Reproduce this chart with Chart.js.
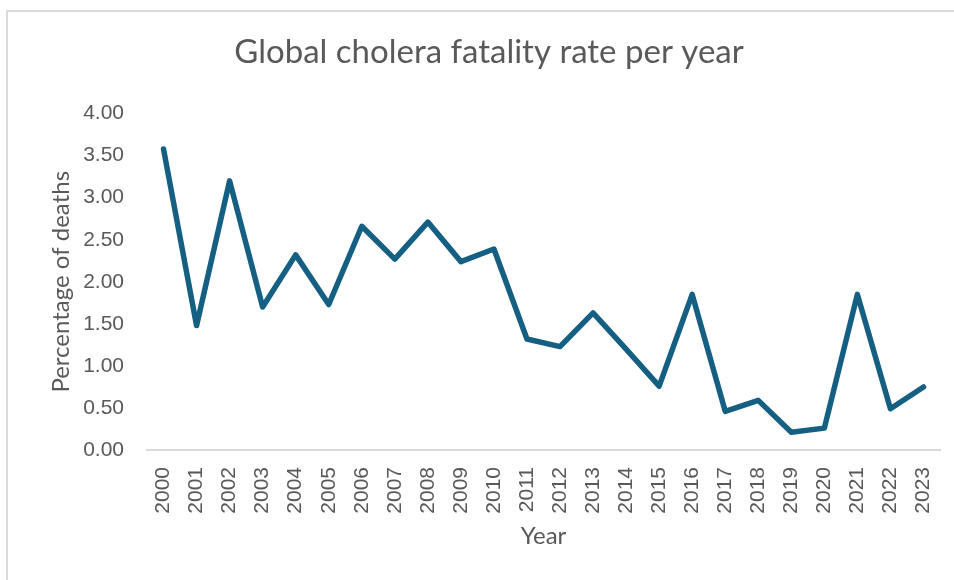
<!DOCTYPE html>
<html>
<head>
<meta charset="utf-8">
<script src="https://cdn.jsdelivr.net/npm/chart.js@4.4.1/dist/chart.umd.min.js"></script>
<style>
  html, body { margin: 0; padding: 0; background: #ffffff; }
  #wrap { position: relative; width: 954px; height: 580px; }
  canvas { display: block; }
</style>
</head>
<body>
<div id="wrap"><canvas id="chart" width="954" height="580"></canvas></div>
<script>
// Years on the category axis
const years = ['2000','2001','2002','2003','2004','2005','2006','2007','2008','2009','2010','2011',
               '2012','2013','2014','2015','2016','2017','2018','2019','2020','2021','2022','2023'];

// Case fatality rate (% of reported cases that died)
const fatalityRate = [3.58, 1.48, 3.20, 1.70, 2.32, 1.73, 2.66, 2.27, 2.71, 2.24, 2.39, 1.32,
                      1.23, 1.63, 1.20, 0.76, 1.85, 0.46, 0.59, 0.21, 0.26, 1.85, 0.49, 0.75];

// Value axis range
const yMin = 0;
const yMax = 4;
const yStep = 0.5;

const textGrey = '#595959';
const lineGrey = '#d9d9d9';

// White page with a light frame along the top and left edges
const framePlugin = {
  id: 'frame',
  beforeDraw(chart) {
    const ctx = chart.ctx;
    ctx.save();
    ctx.fillStyle = '#ffffff';
    ctx.fillRect(0, 0, chart.width, chart.height);
    ctx.fillStyle = lineGrey;
    ctx.fillRect(6, 10, chart.width - 6, 2);
    ctx.fillRect(6, 10, 2, chart.height - 10);
    ctx.restore();
  }
};

new Chart(document.getElementById('chart'), {
  type: 'line',
  data: {
    labels: years,
    datasets: [{
      label: 'Fatality rate',
      data: fatalityRate,
      borderColor: '#156082',
      borderWidth: 5.5,
      borderJoinStyle: 'round',
      borderCapStyle: 'round',
      pointRadius: 0,
      pointHoverRadius: 0,
      tension: 0,
      fill: false
    }]
  },
  options: {
    responsive: false,
    animation: false,
    layout: { padding: { left: 38, right: 14, top: 30, bottom: 0 } },
    plugins: {
      legend: { display: false },
      tooltip: { enabled: false },
      title: {
        display: true,
        text: 'Global cholera fatality rate per year',
        color: textGrey,
        font: { family: 'Lato', size: 33, weight: 'normal' },
        padding: { top: 3, bottom: 41 }
      }
    },
    scales: {
      x: {
        offset: true,
        grid: { display: false, drawTicks: false },
        border: { display: true, color: lineGrey, width: 2 },
        ticks: {
          color: textGrey,
          font: { family: 'Liberation Sans', size: 21 },
          minRotation: 90,
          maxRotation: 90,
          autoSkip: false,
          padding: 17
        },
        title: {
          display: true,
          text: 'Year',
          color: textGrey,
          font: { family: 'Lato', size: 24 },
          padding: { top: 29, bottom: 29 }
        },
        afterFit(scale) {
          scale.height = 130;
          // rotated labels sit inside their category slots, no side room needed
          scale.paddingLeft = 0;
          scale.paddingRight = 0;
        }
      },
      y: {
        min: yMin,
        max: yMax,
        grid: { display: false, drawTicks: false },
        border: { display: false },
        ticks: {
          stepSize: yStep,
          color: textGrey,
          font: { family: 'Liberation Sans', size: 21 },
          padding: 23,
          callback: (v) => Number(v).toFixed(2)
        },
        title: {
          display: true,
          text: 'Percentage of deaths',
          color: textGrey,
          font: { family: 'Lato', size: 24 },
          padding: { top: 9, bottom: 0 }
        },
        afterFit(scale) { scale.width = 109; }
      }
    }
  },
  plugins: [framePlugin]
});
</script>
</body>
</html>
